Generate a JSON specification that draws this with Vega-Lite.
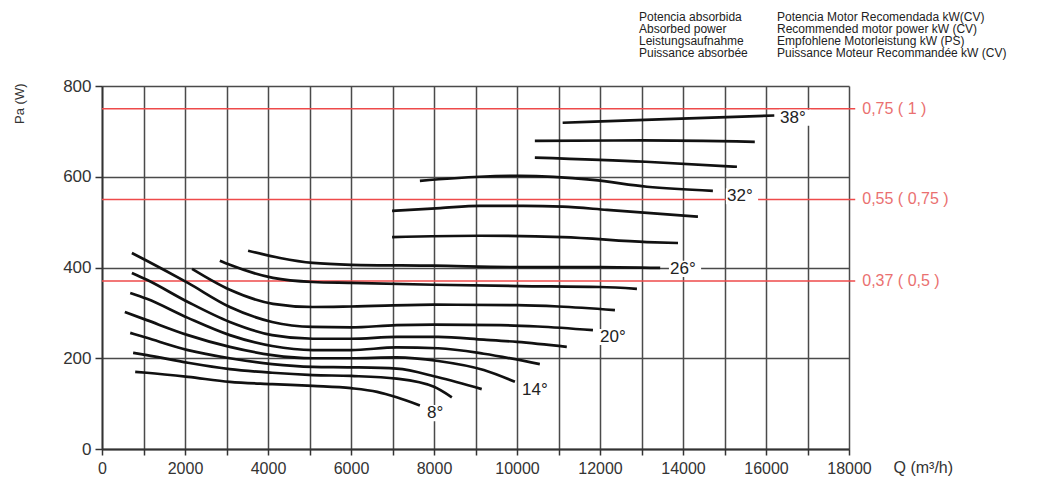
{
  "$schema": "https://vega.github.io/schema/vega-lite/v6.json",
  "width": 747,
  "height": 363,
  "autosize": {"type": "none"},
  "padding": {"left": 102, "top": 86, "right": 190, "bottom": 42},
  "background": "white",
  "config": {"view": {"stroke": null}, "font": "Liberation Sans"},
  "datasets": {
    "curves": [
      {"a":"38","q":11100,"p":719},{"a":"38","q":13600,"p":727},{"a":"38","q":16200,"p":735},
      {"a":"36","q":10430,"p":679},{"a":"36","q":13000,"p":680},{"a":"36","q":15730,"p":677},
      {"a":"34","q":10430,"p":642},{"a":"34","q":13100,"p":633},{"a":"34","q":15300,"p":622},
      {"a":"32","q":7660,"p":591},{"a":"32","q":9100,"p":600},{"a":"32","q":10070,"p":602},{"a":"32","q":11830,"p":593},{"a":"32","q":13130,"p":578},{"a":"32","q":14720,"p":569},
      {"a":"30","q":6990,"p":525},{"a":"30","q":8150,"p":531},{"a":"30","q":9100,"p":536},{"a":"30","q":10150,"p":536},{"a":"30","q":11100,"p":534},{"a":"30","q":12170,"p":527},{"a":"30","q":14360,"p":512},
      {"a":"28","q":6990,"p":467},{"a":"28","q":9100,"p":470},{"a":"28","q":11100,"p":467},{"a":"28","q":13130,"p":456},{"a":"28","q":13880,"p":454},
      {"a":"26","q":3520,"p":437},{"a":"26","q":4290,"p":421},{"a":"26","q":5080,"p":410},{"a":"26","q":6000,"p":406},{"a":"26","q":8000,"p":404},{"a":"26","q":10050,"p":401},{"a":"26","q":12000,"p":401},{"a":"26","q":13450,"p":399},
      {"a":"24","q":2840,"p":415},{"a":"24","q":3080,"p":406},{"a":"24","q":4120,"p":377},{"a":"24","q":5080,"p":368},{"a":"24","q":6000,"p":366},{"a":"24","q":8000,"p":362},{"a":"24","q":10050,"p":359},{"a":"24","q":12000,"p":357},{"a":"24","q":12890,"p":353},
      {"a":"22","q":2170,"p":397},{"a":"22","q":3080,"p":351},{"a":"22","q":4120,"p":320},{"a":"22","q":5080,"p":313},{"a":"22","q":6000,"p":314},{"a":"22","q":8000,"p":318},{"a":"22","q":10000,"p":317},{"a":"22","q":11000,"p":314},{"a":"22","q":12360,"p":306},
      {"a":"20","q":720,"p":432},{"a":"20","q":1080,"p":415},{"a":"20","q":2070,"p":366},{"a":"20","q":3080,"p":313},{"a":"20","q":4100,"p":280},{"a":"20","q":5080,"p":269},{"a":"20","q":6000,"p":268},{"a":"20","q":7100,"p":273},{"a":"20","q":8000,"p":274},{"a":"20","q":9600,"p":273},{"a":"20","q":10500,"p":270},{"a":"20","q":11830,"p":262},
      {"a":"18","q":720,"p":388},{"a":"18","q":1080,"p":373},{"a":"18","q":2070,"p":324},{"a":"18","q":3080,"p":280},{"a":"18","q":4100,"p":251},{"a":"18","q":5080,"p":243},{"a":"18","q":6000,"p":243},{"a":"18","q":7100,"p":247},{"a":"18","q":8100,"p":247},{"a":"18","q":9200,"p":241},{"a":"18","q":10000,"p":236},{"a":"18","q":11200,"p":225},
      {"a":"16","q":680,"p":344},{"a":"16","q":1080,"p":331},{"a":"16","q":2070,"p":289},{"a":"16","q":3080,"p":251},{"a":"16","q":4100,"p":227},{"a":"16","q":5080,"p":218},{"a":"16","q":6000,"p":218},{"a":"16","q":7100,"p":224},{"a":"16","q":8100,"p":222},{"a":"16","q":9200,"p":210},{"a":"16","q":10550,"p":187},
      {"a":"14","q":550,"p":302},{"a":"14","q":1080,"p":284},{"a":"14","q":2070,"p":251},{"a":"14","q":3080,"p":225},{"a":"14","q":4100,"p":207},{"a":"14","q":5080,"p":200},{"a":"14","q":6000,"p":200},{"a":"14","q":7100,"p":202},{"a":"14","q":8100,"p":194},{"a":"14","q":9200,"p":174},{"a":"14","q":9950,"p":148},
      {"a":"12","q":680,"p":256},{"a":"12","q":1080,"p":245},{"a":"12","q":2070,"p":218},{"a":"12","q":3080,"p":200},{"a":"12","q":4100,"p":187},{"a":"12","q":5080,"p":181},{"a":"12","q":6000,"p":180},{"a":"12","q":7100,"p":177},{"a":"12","q":8100,"p":158},{"a":"12","q":9150,"p":132},
      {"a":"10","q":750,"p":212},{"a":"10","q":1080,"p":207},{"a":"10","q":2070,"p":190},{"a":"10","q":3080,"p":176},{"a":"10","q":4100,"p":168},{"a":"10","q":5080,"p":163},{"a":"10","q":6000,"p":161},{"a":"10","q":7100,"p":155},{"a":"10","q":8000,"p":137},{"a":"10","q":8430,"p":114},
      {"a":"8","q":800,"p":170},{"a":"8","q":1080,"p":168},{"a":"8","q":2070,"p":159},{"a":"8","q":3080,"p":148},{"a":"8","q":4100,"p":143},{"a":"8","q":5080,"p":139},{"a":"8","q":6000,"p":134},{"a":"8","q":6630,"p":126},{"a":"8","q":7100,"p":114},{"a":"8","q":7660,"p":96}
    ],
    "labels": [
      {"t":"38°","q":16337,"p":730},
      {"t":"32°","q":15060,"p":557},
      {"t":"26°","q":13687,"p":397},
      {"t":"20°","q":12000,"p":247},
      {"t":"14°","q":10120,"p":130},
      {"t":"8°","q":7831,"p":79}
    ],
    "motor": [
      {"p":750,"t":"0,75 ( 1 )"},
      {"p":550,"t":"0,55 ( 0,75 )"},
      {"p":370,"t":"0,37 ( 0,5 )"}
    ]
  },
  "layer": [
    {
      "data": {"name": "motor"},
      "mark": {"type": "rule", "color": "#ee4a4a", "strokeWidth": 1.5, "clip": false},
      "encoding": {
        "x": {"datum": 0, "type": "quantitative",
          "scale": {"domain": [0, 18000], "nice": false, "zero": true},
          "axis": {
            "values": [0,1000,2000,3000,4000,5000,6000,7000,8000,9000,10000,11000,12000,13000,14000,15000,16000,17000,18000],
            "labelExpr": "datum.value % 2000 === 0 ? format(datum.value, 'd') : ''",
            "grid": true, "gridColor": "#4a4a4a", "gridWidth": 1.5,
            "domainColor": "#333", "domainWidth": 1.8,
            "tickColor": "#333", "tickWidth": 1.5, "tickSize": 6,
            "labelFontSize": 16, "labelColor": "#333", "labelPadding": 5,
            "labelFlush": false, "labelOverlap": false,
            "title": "Q (m³/h)", "titleFontSize": 16, "titleFontWeight": "normal", "titleColor": "#333",
            "titleAnchor": "start", "titleAlign": "left", "titleBaseline": "middle",
            "titleX": 791, "titleY": 18
          }
        },
        "x2": {"datum": 18150},
        "y": {"field": "p", "type": "quantitative",
          "scale": {"domain": [0, 800], "nice": false},
          "axis": {
            "values": [0, 200, 400, 600, 800],
            "grid": true, "gridColor": "#4a4a4a", "gridWidth": 1.5,
            "domainColor": "#333", "domainWidth": 1.8,
            "tickColor": "#333", "tickWidth": 1.5, "tickSize": 7,
            "labelFontSize": 17, "labelColor": "#333", "labelPadding": 4,
            "title": "Pa (W)", "titleFontSize": 13, "titleFontWeight": "normal", "titleColor": "#333",
            "titleAngle": -90, "titleAlign": "right", "titleBaseline": "middle",
            "titleX": -83, "titleY": -3
          }
        }
      }
    },
    {
      "data": {"name": "motor"},
      "mark": {"type": "text", "align": "left", "baseline": "middle", "fontSize": 16, "color": "#ea7070", "clip": false},
      "encoding": {
        "x": {"datum": 18320, "type": "quantitative"},
        "y": {"field": "p", "type": "quantitative"},
        "text": {"field": "t"}
      }
    },
    {
      "data": {"name": "curves"},
      "mark": {"type": "line", "interpolate": "monotone", "color": "#111", "strokeWidth": 2.7},
      "encoding": {
        "x": {"field": "q", "type": "quantitative"},
        "y": {"field": "p", "type": "quantitative"},
        "detail": {"field": "a"}
      }
    },
    {
      "data": {"name": "labels"},
      "mark": {"type": "point", "shape": "M-1.5,-0.75H1.5V0.75H-1.5Z", "filled": true, "color": "white", "opacity": 1, "size": 460, "xOffset": 15, "clip": false},
      "encoding": {
        "x": {"field": "q", "type": "quantitative"},
        "y": {"field": "p", "type": "quantitative"}
      }
    },
    {
      "data": {"name": "labels"},
      "mark": {"type": "text", "align": "left", "baseline": "middle", "fontSize": 17, "color": "#222", "clip": false},
      "encoding": {
        "x": {"field": "q", "type": "quantitative"},
        "y": {"field": "p", "type": "quantitative"},
        "text": {"field": "t"}
      }
    },
    {
      "data": {"values": [{"t": ["Potencia absorbida", "Absorbed power", "Leistungsaufnahme", "Puissance absorbée"]}]},
      "mark": {"type": "text", "align": "left", "baseline": "top", "fontSize": 12, "lineHeight": 12, "color": "#222", "clip": false},
      "encoding": {
        "x": {"datum": 12940, "type": "quantitative"},
        "y": {"datum": 964, "type": "quantitative"},
        "text": {"field": "t"}
      }
    },
    {
      "data": {"values": [{"t": ["Potencia Motor Recomendada kW(CV)", "Recommended motor power kW (CV)", "Empfohlene Motorleistung kW (PS)", "Puissance Moteur Recommandée kW (CV)"]}]},
      "mark": {"type": "text", "align": "left", "baseline": "top", "fontSize": 12, "lineHeight": 12, "color": "#222", "clip": false},
      "encoding": {
        "x": {"datum": 16265, "type": "quantitative"},
        "y": {"datum": 964, "type": "quantitative"},
        "text": {"field": "t"}
      }
    }
  ]
}
